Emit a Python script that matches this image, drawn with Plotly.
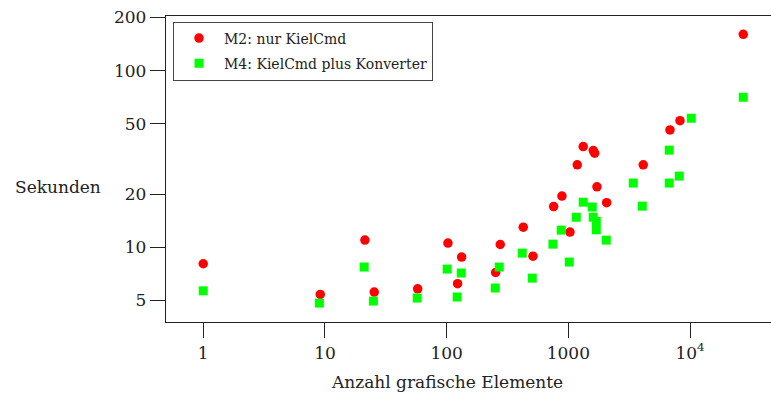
import plotly.graph_objects as go

# M2: nur KielCmd (red circles)
m2_x = [1, 9.15, 21.3, 25.4, 57.8, 102.5, 132.8, 123, 275.6, 252.7, 426, 512, 757, 886,
        1031, 1183, 1325, 1602, 1645, 1718, 2064, 4124, 6838, 8265, 27360]
m2_y = [8.07, 5.41, 10.98, 5.58, 5.82, 10.56, 8.80, 6.22, 10.37, 7.20, 13.0, 8.91, 17.0, 19.5,
        12.19, 29.3, 37.2, 35.3, 34.1, 22.0, 17.9, 29.3, 46.2, 52.1, 160.6]

# M4: KielCmd plus Konverter (green squares)
m4_x = [1, 9, 21, 25, 57.3, 101, 131.8, 122, 270.5, 250.8, 418, 505, 747, 874, 1017, 1161,
        1325, 1571, 1602, 1695, 1695, 2048, 3414, 4049, 6745, 6745, 8153, 10233, 27360]
m4_y = [5.67, 4.83, 7.73, 4.96, 5.16, 7.53, 7.15, 5.23, 7.73, 5.88, 9.27, 6.69, 10.42, 12.51,
        8.25, 14.8, 18.0, 16.9, 14.8, 14.0, 12.56, 10.98, 23.1, 17.1, 35.5, 23.1, 25.3, 53.8, 70.7]

x_tickvals = [1, 10, 100, 1000, 10000]
x_ticktext = ["1", "10", "100", "1000", "10<sup>4</sup>"]
y_tickvals = [5, 10, 20, 50, 100, 200]
y_ticktext = ["5", "10", "20", "50", "100", "200"]

FONT = "DejaVu Serif"

fig = go.Figure()
fig.add_trace(go.Scatter(x=m2_x, y=m2_y, mode="markers", name="M2: nur KielCmd",
                         legendgroup="m2",
                         marker=dict(symbol="circle", size=9.5, color="#ff0000")))
fig.add_trace(go.Scatter(x=m4_x, y=m4_y, mode="markers", name="M4: KielCmd plus Konverter",
                         legendgroup="m4",
                         marker=dict(symbol="square", size=9, color="#00ff00")))

fig.update_layout(
    width=771, height=396,
    margin=dict(l=166, r=0, t=16, b=74),
    paper_bgcolor="white", plot_bgcolor="white",
    font=dict(family=FONT, size=17, color="#222"),
    showlegend=True,
    legend=dict(x=0.0116, y=0.982, xanchor="left", yanchor="top",
                bordercolor="#444", borderwidth=1, bgcolor="white",
                traceorder="grouped", tracegroupgap=4, itemwidth=40,
                font=dict(family=FONT, size=14, color="#222")),
    xaxis=dict(type="log", range=[-0.306, 4.665],
               tickvals=x_tickvals, ticktext=x_ticktext,
               showgrid=False, zeroline=False,
               showline=True, linecolor="#222", linewidth=1.3, mirror=True,
               ticks="outside", ticklen=15, tickwidth=1.2, tickcolor="#222"),
    yaxis=dict(type="log", range=[0.577, 2.3095],
               tickvals=y_tickvals, ticktext=y_ticktext,
               showgrid=False, zeroline=False,
               showline=True, linecolor="#222", linewidth=1.3,
               ticks="outside", ticklen=15, tickwidth=1.2, tickcolor="#222"),
    annotations=[
        dict(text="Sekunden", xref="paper", yref="paper",
             x=-0.1785, y=0.441, xanchor="center", yanchor="middle",
             showarrow=False, font=dict(family=FONT, size=17, color="#222")),
        dict(text="Anzahl grafische Elemente", xref="paper", yref="paper",
             x=0.465, y=-0.195, xanchor="center", yanchor="middle",
             showarrow=False, font=dict(family=FONT, size=17, color="#222")),
    ],
)

fig.write_html("out.html")
